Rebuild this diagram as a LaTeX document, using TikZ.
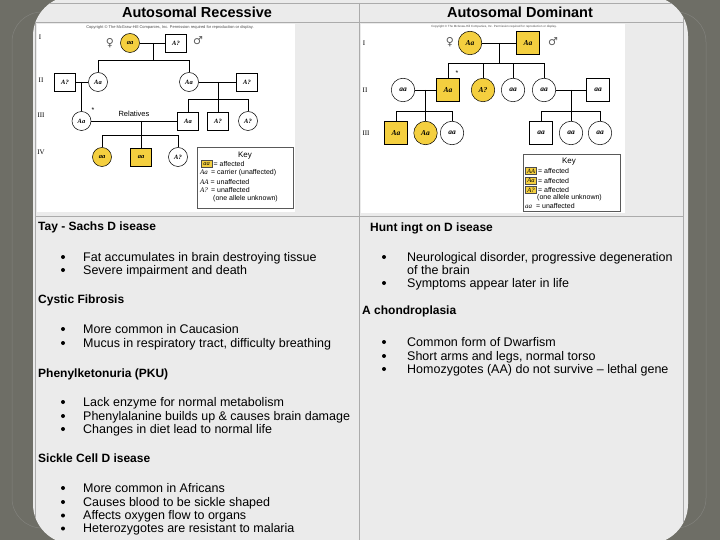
\documentclass[tikz,border=0pt]{standalone}
\usepackage{fontspec}
\setmainfont{Liberation Sans}
\newfontfamily\pedfont{Liberation Serif}
\newfontfamily\symfont{DejaVu Sans}
\usetikzlibrary{calc}
\definecolor{darkbg}{HTML}{6E6E66}
\definecolor{panelc}{HTML}{EBEBEB}
\definecolor{tline}{HTML}{ABABAB}
\definecolor{pedyellow}{HTML}{F4CF3F}
\begin{document}
\begin{tikzpicture}[x=1pt,y=-1pt,
  fem/.style={circle,draw=black,line width=0.5pt,inner sep=0pt,minimum size=19pt,fill=white,font=\pedfont\itshape\bfseries\fontsize{6.5}{6.5}\selectfont},
  mal/.style={rectangle,draw=black,line width=0.5pt,inner sep=0pt,minimum width=21pt,minimum height=18pt,fill=white,font=\pedfont\itshape\bfseries\fontsize{6.5}{6.5}\selectfont},
  rfem/.style={fem,minimum size=23.5pt,font=\pedfont\itshape\bfseries\fontsize{7.5}{7.5}\selectfont},
  rmal/.style={mal,minimum width=23pt,minimum height=23pt,font=\pedfont\itshape\bfseries\fontsize{7.5}{7.5}\selectfont},
  aff/.style={fill=pedyellow},
  pline/.style={line width=0.8pt,black},
  gen/.style={font=\pedfont\fontsize{7}{7}\selectfont,inner sep=0pt},
  gsym/.style={font=\symfont\fontsize{11}{11}\selectfont,inner sep=0pt,gray!70!black},
  copyr/.style={font=\fontsize{4}{4}\selectfont,inner sep=0pt,gray!60!black},
  keybox/.style={draw=gray!70!black,line width=0.7pt,fill=white,anchor=north west,inner sep=0pt},
  keytxt/.style={font=\fontsize{7}{7}\selectfont,inner sep=0pt,anchor=west},
  keyg/.style={draw=gray!60!black,line width=0.4pt,fill=pedyellow,inner sep=0.6pt,minimum width=11pt,minimum height=7pt,font=\pedfont\itshape\fontsize{6.5}{6.5}\selectfont},
  hdr/.style={font=\bfseries\fontsize{14.5}{14.5}\selectfont,inner sep=0pt},
  head/.style={font=\bfseries\fontsize{12}{12}\selectfont,inner sep=0pt,anchor=base west},
  body/.style={font=\fontsize{12.5}{12.5}\selectfont,inner sep=0pt,anchor=base west},
  bul/.style={circle,fill=black,inner sep=0pt,minimum size=4pt}
]
\useasboundingbox (0,0) rectangle (720,540);
% background
\fill[darkbg] (0,0) rectangle (720,540);
\draw[gray!35!darkbg!90!white,line width=0.5pt,rounded corners=30pt] (12,12) rectangle (706,528);
\fill[panelc,rounded corners=40pt] (33,-4) rectangle (688,544);
% table lines
\begin{scope}
\clip[rounded corners=40pt] (33,-4) rectangle (688,544);
\draw[tline,line width=0.8pt] (35,3) rectangle (683,560);
\draw[tline,line width=0.8pt] (35,22) -- (683,22);
\draw[tline,line width=0.8pt] (35,216) -- (683,216);
\draw[tline,line width=0.8pt] (359,3) -- (359,560);
\end{scope}
% header
\node[hdr] (h1) at (197,12.5) {Autosomal Recessive};
\node[hdr] (h2) at (520,12.5) {Autosomal Dominant};
% image backgrounds
\fill[white] (37,24) rectangle (295,212);
\fill[white] (361,24) rectangle (625,213);

% ================= left pedigree =================
\node[copyr] (lcopy) at (170,27) {Copyright \textcopyright\ The McGraw-Hill Companies, Inc. Permission required for reproduction or display.};
\node[gen] (lg1) at (40,37) {I};
\node[gen] (lg2) at (41,80) {II};
\node[gen] (lg3) at (41,115) {III};
\node[gen] (lg4) at (41,152) {IV};
\node[gsym] (lfs) at (110,43) {♀};
\node[gsym] (lms) at (198,41) {♂};
\node[fem,aff] (L1f) at (130,43) {aa};
\node[mal] (L1m) at (176,43) {A?};
\coordinate (L1c) at (153,43);
\coordinate (L1s) at (153,60);
\node[mal] (L2a) at (65,82) {A?};
\node[fem] (L2b) at (98,82) {Aa};
\node[fem] (L2c) at (189,82) {Aa};
\node[mal] (L2d) at (247,82) {A?};
\coordinate (L2m1) at (81.5,82);
\coordinate (L2m2) at (218,82);
\coordinate (L2s) at (218,99);
\node[fem] (L3a) at (81.5,121) {Aa};
\node[mal] (L3b) at (188,121) {Aa};
\node[mal] (L3c) at (218,121) {A?};
\node[fem] (L3d) at (248,121) {A?};
\coordinate (L3m) at (141,121);
\coordinate (L3s) at (141,135);
\node[fem,aff] (L4a) at (102,157) {aa};
\node[mal,aff] (L4b) at (141,157) {aa};
\node[fem] (L4c) at (178,157) {A?};
\node[font=\fontsize{7}{7}\selectfont,inner sep=0pt] (lstar) at (93,110) {*};
\node[font=\fontsize{7.5}{7.5}\selectfont,inner sep=0pt] (lrel) at (134,114) {Relatives};
\draw[pline] (L1f) -- (L1m);
\draw[pline] (L1c) -- (L1s);
\draw[pline] (L2b) -- (L2b |- L1s) -- (L2c |- L1s) -- (L2c);
\draw[pline] (L2a) -- (L2b);
\draw[pline] (L2c) -- (L2d);
\draw[pline] (L2m1) -- (L3a);
\draw[pline] (L2m2) -- (L3c);
\draw[pline] (L3b) -- (L3b |- L2s) -- (L3d |- L2s) -- (L3d);
\draw[pline] (L3a) -- (L3b);
\draw[pline] (L3m) -- (L4b);
\draw[pline] (L4a) -- (L4a |- L3s) -- (L4c |- L3s) -- (L4c);
% left key
\node[keybox,minimum width=96pt,minimum height=61pt] (lkey) at (197,147) {};
\node[font=\fontsize{8}{8}\selectfont,inner sep=0pt] (lkeyt) at (245,155.5) {Key};
\node[keyg] (lk1g) at (206.5,164) {aa};
\node[keytxt] (lk1) at (213.5,164) {= affected};
\node[keytxt] (lk2) at (200,173) {{\pedfont\itshape Aa} \,= carrier (unaffected)};
\node[keytxt] (lk3) at (200,182) {{\pedfont\itshape AA} = unaffected};
\node[keytxt] (lk4) at (200,190.5) {{\pedfont\itshape A?} \,= unaffected};
\node[keytxt] (lk5) at (213,199) {(one allele unknown)};

% ================= right pedigree =================
\node[copyr,font=\fontsize{3}{3}\selectfont] (rcopy) at (494,27) {Copyright \textcopyright\ The McGraw-Hill Companies, Inc. Permission required for reproduction or display.};
\node[gen] (rg1) at (364,43) {I};
\node[gen] (rg2) at (365,90) {II};
\node[gen] (rg3) at (366,133) {III};
\node[gsym] (rfs) at (450,42) {♀};
\node[gsym] (rms) at (553,42) {♂};
\node[rfem,aff] (R1f) at (470,43) {Aa};
\node[rmal,aff] (R1m) at (528,43) {Aa};
\coordinate (R1c) at (499,43);
\coordinate (R1s) at (499,63);
\node[rfem] (R2a) at (403,90) {aa};
\node[rmal,aff] (R2b) at (448,90) {Aa};
\node[rfem,aff] (R2c) at (483,90) {A?};
\node[rfem] (R2d) at (513,90) {aa};
\node[rfem] (R2e) at (544,90) {aa};
\node[rmal] (R2f) at (598,90) {aa};
\node[font=\fontsize{7}{7}\selectfont,inner sep=0pt] (rstar) at (457,73) {*};
\coordinate (R2m1) at (425.5,90);
\coordinate (R2s1) at (425.5,111);
\coordinate (R2m2) at (571,90);
\coordinate (R2s2) at (571,111);
\node[rmal,aff] (R3a) at (396,133) {Aa};
\node[rfem,aff] (R3b) at (425.5,133) {Aa};
\node[rfem] (R3c) at (452,133) {aa};
\node[rmal] (R3d) at (541,133) {aa};
\node[rfem] (R3e) at (571,133) {aa};
\node[rfem] (R3f) at (600,133) {aa};
\draw[pline] (R1f) -- (R1m);
\draw[pline] (R1c) -- (R1s);
\draw[pline] (R2b) -- (R2b |- R1s) -- (R2e |- R1s) -- (R2e);
\draw[pline] (R2c) -- (R2c |- R1s);
\draw[pline] (R2d) -- (R2d |- R1s);
\draw[pline] (R2a) -- (R2b);
\draw[pline] (R2e) -- (R2f);
\draw[pline] (R2m1) -- (R3b);
\draw[pline] (R3a) -- (R3a |- R2s1) -- (R3c |- R2s1) -- (R3c);
\draw[pline] (R2m2) -- (R3e);
\draw[pline] (R3d) -- (R3d |- R2s2) -- (R3f |- R2s2) -- (R3f);
% right key
\node[keybox,minimum width=97pt,minimum height=57pt] (rkey) at (523,154) {};
\node[font=\fontsize{8}{8}\selectfont,inner sep=0pt] (rkeyt) at (569,161.5) {Key};
\node[keyg] (rk1g) at (531,171) {AA};
\node[keytxt] (rk1) at (538,171) {= affected};
\node[keyg] (rk2g) at (531,180.5) {Aa};
\node[keytxt] (rk2) at (538,180.5) {= affected};
\node[keyg] (rk3g) at (531,190) {A?};
\node[keytxt] (rk3) at (538,190) {= affected};
\node[keytxt] (rk4) at (537,197.5) {(one allele unknown)};
\node[keytxt] (rk5) at (525,205.5) {{\pedfont\itshape aa}\ \ = unaffected};

% ================= left text =================
\node[head] (th1) at (38,230) {Tay - Sachs D isease};
\node[bul] (b1) at (63,257) {};
\node[body] (t1) at (83,261) {Fat accumulates in brain destroying tissue};
\node[bul] (b2) at (63,270) {};
\node[body] (t2) at (83,274) {Severe impairment and death};
\node[head] (th2) at (38,303) {Cystic Fibrosis};
\node[bul] (b3) at (63,329) {};
\node[body] (t3) at (83,333) {More common in Caucasion};
\node[bul] (b4) at (63,343) {};
\node[body] (t4) at (83,347) {Mucus in respiratory tract, difficulty breathing};
\node[head] (th3) at (38,377) {Phenylketonuria (PKU)};
\node[bul] (b5) at (63,402) {};
\node[body] (t5) at (83,406) {Lack enzyme for normal metabolism};
\node[bul] (b6) at (63,416) {};
\node[body] (t6) at (83,420) {Phenylalanine builds up \& causes brain damage};
\node[bul] (b7) at (63,429) {};
\node[body] (t7) at (83,433) {Changes in diet lead to normal life};
\node[head] (th4) at (38,462) {Sickle Cell D isease};
\node[bul] (b8) at (63,488) {};
\node[body] (t8) at (83,492) {More common in Africans};
\node[bul] (b9) at (63,502) {};
\node[body] (t9) at (83,506) {Causes blood to be sickle shaped};
\node[bul] (b10) at (63,515.5) {};
\node[body] (t10) at (83,519.5) {Affects oxygen flow to organs};
\node[bul] (b11) at (63,528.5) {};
\node[body] (t11) at (83,532.5) {Heterozygotes are resistant to malaria};

% ================= right text =================
\node[head] (rh1) at (370,231) {Hunt ingt on D isease};
\node[bul] (rb1) at (384,257) {};
\node[body] (r1) at (407,261) {Neurological disorder, progressive degeneration};
\node[body] (r1b) at (407,274) {of the brain};
\node[bul] (rb2) at (384,283) {};
\node[body] (r2) at (407,287) {Symptoms appear later in life};
\node[head] (rh2) at (362,314) {A chondroplasia};
\node[bul] (rb3) at (384,342) {};
\node[body] (r3) at (407,346) {Common form of Dwarfism};
\node[bul] (rb4) at (384,356) {};
\node[body] (r4) at (407,360) {Short arms and legs, normal torso};
\node[bul] (rb5) at (384,369) {};
\node[body] (r5) at (407,373) {Homozygotes (AA) do not survive \textendash\ lethal gene};
\end{tikzpicture}
\end{document}
